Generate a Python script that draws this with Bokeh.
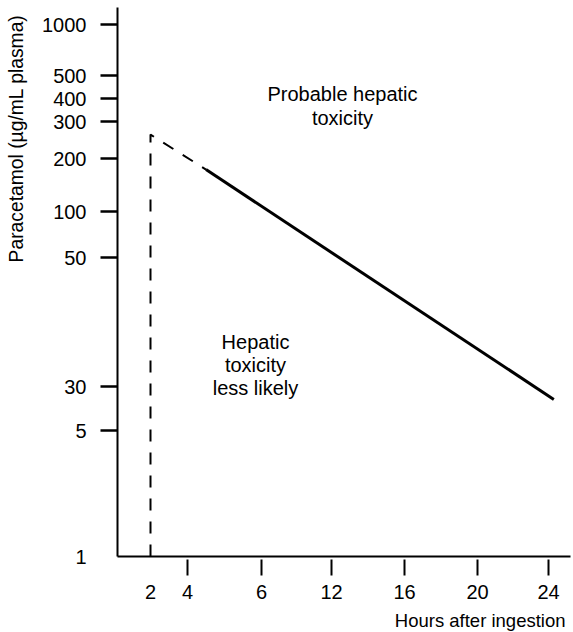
import numpy as np
from bokeh.plotting import figure
from bokeh.models import Range1d, FixedTicker, Label, Title, LinearAxis
from bokeh.embed import file_html
from bokeh.resources import INLINE

# ---------------- data ----------------
hour_ticks = [2, 4, 6, 12, 16, 20, 24]          # x tick labels (hours)
conc_ticks = [1, 5, 30, 50, 100, 200, 300, 400, 500, 1000]  # y tick labels (ug/mL)
hours_without_tick = [2]
conc_without_tick = [1]

# treatment line: dashed part (vertical at 2 h, then early segment), solid part
dashed_hours = [2, 2, 4.5]
dashed_conc = [1, 260, 173]
solid_hours = [4.5, 24.3]
solid_conc = [173, 17.7]

# ---------------- nomogram scale ----------------
# The printed axes are neither linear nor log: piecewise scale defined by the
# distance (px) of every tick from the axis origin.
HOUR_KNOT_OFFSET = [33, 70, 144, 214, 287, 360, 431]
CONC_KNOT_OFFSET = [0, 126, 170, 299, 345, 398, 435, 458, 481, 532]


def piecewise(v, knots, offs, log=False):
    k = np.log10(np.asarray(knots, float)) if log else np.asarray(knots, float)
    vv = np.log10(np.asarray(v, float)) if log else np.asarray(v, float)
    o = np.asarray(offs, float)
    out = np.interp(vv, k, o)
    s_hi = (o[-1] - o[-2]) / (k[-1] - k[-2])
    s_lo = (o[1] - o[0]) / (k[1] - k[0])
    out = np.where(vv > k[-1], o[-1] + (vv - k[-1]) * s_hi, out)
    out = np.where(vv < k[0], o[0] + (vv - k[0]) * s_lo, out)
    return out


def hx(h):
    return piecewise(h, hour_ticks, HOUR_KNOT_OFFSET)


def cy(c):
    return piecewise(c, conc_ticks, CONC_KNOT_OFFSET, log=True)


FONT = "Liberation Sans"

p = figure(width=573, height=632, output_backend="svg", toolbar_location=None,
           x_range=Range1d(0, 453), y_range=Range1d(0, 549),
           min_border_left=117, min_border_right=3, min_border_top=7,
           min_border_bottom=76)
p.grid.visible = False
p.outline_line_color = None
p.background_fill_color = "white"
p.border_fill_color = "white"

xpos = [float(round(v, 3)) for v in hx(hour_ticks)]
ypos = [float(round(v, 3)) for v in cy(conc_ticks)]
x_minor = [xp for h, xp in zip(hour_ticks, xpos) if h not in hours_without_tick]
y_minor = [yp for c, yp in zip(conc_ticks, ypos) if c not in conc_without_tick]

xax = p.xaxis[0]
yax = p.yaxis[0]
xax.ticker = FixedTicker(ticks=xpos, minor_ticks=x_minor)
yax.ticker = FixedTicker(ticks=ypos, minor_ticks=y_minor)
xax.major_label_overrides = {xp: str(h) for h, xp in zip(hour_ticks, xpos)}
yax.major_label_overrides = {yp: str(c) for c, yp in zip(conc_ticks, ypos)}

for ax in (xax, yax):
    ax.axis_line_width = 2
    ax.axis_line_color = "black"
    ax.major_tick_line_color = None
    ax.minor_tick_line_color = "black"
    ax.minor_tick_line_width = 2
    ax.major_label_text_font = FONT
    ax.major_label_text_font_size = "20px"
    ax.major_label_text_color = "black"

xax.major_tick_in = 0
xax.major_tick_out = 19
xax.minor_tick_in = -3
xax.minor_tick_out = 19
xax.major_label_standoff = 9

yax.major_tick_in = 0
yax.major_tick_out = 17
yax.minor_tick_in = 0
yax.minor_tick_out = 17
yax.minor_tick_line_width = 2.5
yax.major_label_standoff = 14


# invisible spacer axes (one hidden tick, empty label) that push the titles outward
def spacer_axis(size, at):
    a = LinearAxis(ticker=FixedTicker(ticks=[at]))
    a.major_label_overrides = {at: ""}
    a.major_label_text_font_size = "1px"
    a.axis_line_color = None
    a.major_tick_line_color = None
    a.minor_tick_line_color = None
    a.major_tick_in = 0
    a.major_tick_out = size
    a.minor_tick_in = 0
    a.minor_tick_out = 0
    a.major_label_standoff = 0
    return a


p.add_layout(spacer_axis(13, 270.0), "left")
p.add_layout(spacer_axis(6, 220.0), "below")

# axis titles as side-panel titles (aligned toward the axis ends like the reference)
p.add_layout(Title(text="Paracetamol (\u00b5g/mL plasma)", align="right", offset=7,
                   standoff=0, text_font=FONT, text_font_size="19.3px",
                   text_font_style="normal", text_color="black"), "left")
p.add_layout(Title(text="Hours after ingestion", align="right", offset=5,
                   standoff=0, text_font=FONT, text_font_size="18.5px",
                   text_font_style="normal", text_color="black"), "below")

# treatment line
p.line(hx(dashed_hours), cy(dashed_conc), line_color="black", line_width=2,
       line_dash="12 11")
p.line(hx(solid_hours), cy(solid_conc), line_color="black", line_width=3)

# region labels
p.add_layout(Label(x=225, y=474, text="Probable hepatic\ntoxicity",
                   text_align="center", text_baseline="top", text_font=FONT,
                   text_font_size="20px", text_line_height=1.1,
                   text_color="black"))
p.add_layout(Label(x=138, y=226, text="Hepatic\ntoxicity\nless likely",
                   text_align="center", text_baseline="top", text_font=FONT,
                   text_font_size="20px", text_line_height=1.05,
                   text_color="black"))

open("out.html", "w").write(file_html(p, INLINE))
